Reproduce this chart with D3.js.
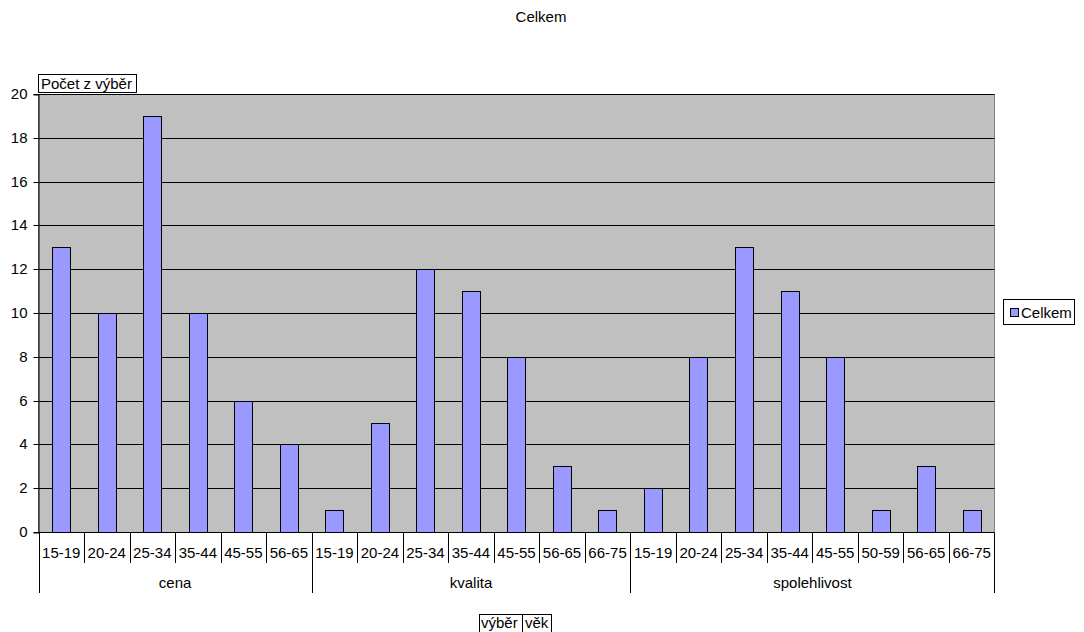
<!DOCTYPE html>
<html>
<head>
<meta charset="utf-8">
<script src="https://cdn.jsdelivr.net/npm/d3@7"></script>
<style>
  body { margin: 0; background: #fff; }
  svg { display: block; font-family: "Liberation Sans", Arial, sans-serif; }
</style>
</head>
<body>
<svg id="chart" width="1084" height="632"></svg>
<script>
// Pivot data: count of responses per group (výběr) and age band (věk)
const groups = ["cena", "kvalita", "spolehlivost"];
const cenaAges = ["15-19", "20-24", "25-34", "35-44", "45-55", "56-65"];
const cenaValues = [13, 10, 19, 10, 6, 4];
const kvalitaAges = ["15-19", "20-24", "25-34", "35-44", "45-55", "56-65", "66-75"];
const kvalitaValues = [1, 5, 12, 11, 8, 3, 1];
const spolehlivostAges = ["15-19", "20-24", "25-34", "35-44", "45-55", "50-59", "56-65", "66-75"];
const spolehlivostValues = [2, 8, 13, 11, 8, 1, 3, 1];
const yTicks = [0, 2, 4, 6, 8, 10, 12, 14, 16, 18, 20];

const groupAges = [cenaAges, kvalitaAges, spolehlivostAges];
const groupValues = [cenaValues, kvalitaValues, spolehlivostValues];

const rows = [];
groups.forEach((g, gi) => {
  groupAges[gi].forEach((a, ai) => {
    rows.push({ key: g + "|" + a, group: g, age: a, value: groupValues[gi][ai] });
  });
});

const FS = 15;
const svg = d3.select("#chart");
const plotL = 38.5, plotR = 994.5, plotT = 94.5, plotB = 532.5;

const x = d3.scaleBand().domain(rows.map(d => d.key)).range([plotL, plotR]).paddingInner(0.6).paddingOuter(0.3);
const xCat = d3.scaleBand().domain(rows.map(d => d.key)).range([plotL, plotR]);
const y = d3.scaleLinear().domain([0, 20]).range([plotB, plotT]);

// Title
svg.append("text").attr("x", 541).attr("y", 22).attr("text-anchor", "middle")
  .attr("font-size", FS).attr("fill", "#000").text("Celkem");

// Plot area
svg.append("rect").attr("x", plotL).attr("y", plotT).attr("width", plotR - plotL).attr("height", plotB - plotT)
  .attr("fill", "#c0c0c0").attr("stroke", "#808080").attr("stroke-width", 1);

// Gridlines
svg.append("g").selectAll("line").data(yTicks.filter(t => t > 0)).join("line")
  .attr("x1", plotL).attr("x2", plotR)
  .attr("y1", d => Math.floor(y(d)) + 0.5).attr("y2", d => Math.floor(y(d)) + 0.5)
  .attr("stroke", "#000").attr("stroke-width", 1);

// Bars
svg.append("g").selectAll("rect").data(rows).join("rect")
  .attr("x", d => Math.round(x(d.key)) + 0.5)
  .attr("y", d => Math.floor(y(d.value)) + 0.5)
  .attr("width", Math.round(x.bandwidth()))
  .attr("height", d => Math.floor(y(0)) - Math.floor(y(d.value)))
  .attr("fill", "#9999ff").attr("stroke", "#000").attr("stroke-width", 1);

// Y axis
const yAxis = d3.axisLeft(y).tickValues(yTicks).tickSize(5).tickPadding(6);
const yg = svg.append("g").attr("transform", `translate(${plotL},0)`).call(yAxis);
yg.select(".domain").attr("stroke", "#000");
yg.selectAll(".tick line").attr("stroke", "#000");
yg.selectAll(".tick text").attr("font-size", FS).attr("fill", "#000")
  .attr("font-family", "Liberation Sans, Arial, sans-serif");
yg.selectAll(".tick").attr("transform", d => `translate(0,${Math.floor(y(d)) + 0.5})`);

// X axis baseline
svg.append("line").attr("x1", plotL).attr("x2", plotR).attr("y1", plotB).attr("y2", plotB)
  .attr("stroke", "#000");

// Category separators and labels
const catSepBottom = 563, grpSepBottom = 593;
const g0 = svg.append("g");
rows.forEach((d, i) => {
  const xs = Math.round(xCat(d.key)) + 0.5;
  const isGroupStart = i === 0 || rows[i - 1].group !== d.group;
  g0.append("line").attr("x1", xs).attr("x2", xs).attr("y1", plotB)
    .attr("y2", isGroupStart ? grpSepBottom : catSepBottom).attr("stroke", "#000");
  g0.append("text").attr("x", xCat(d.key) + xCat.bandwidth() / 2).attr("y", 558)
    .attr("text-anchor", "middle").attr("font-size", FS).text(d.age);
});
g0.append("line").attr("x1", plotR).attr("x2", plotR).attr("y1", plotB).attr("y2", grpSepBottom).attr("stroke", "#000");

// Group labels
groups.forEach(g => {
  const keys = rows.filter(r => r.group === g).map(r => r.key);
  const x0 = xCat(keys[0]), x1 = xCat(keys[keys.length - 1]) + xCat.bandwidth();
  g0.append("text").attr("x", (x0 + x1) / 2).attr("y", 588)
    .attr("text-anchor", "middle").attr("font-size", FS).text(g);
});

// Data field button
const df = svg.append("g");
df.append("rect").attr("x", 38.5).attr("y", 74.5).attr("width", 98).attr("height", 18)
  .attr("fill", "#fff").attr("stroke", "#000");
df.append("text").attr("x", 41).attr("y", 89).attr("font-size", FS).text("Počet z výběr");

// Legend
const lg = svg.append("g");
lg.append("rect").attr("x", 1003.5).attr("y", 299.5).attr("width", 71).attr("height", 25)
  .attr("fill", "#fff").attr("stroke", "#000");
lg.append("rect").attr("x", 1010.5).attr("y", 308.5).attr("width", 8).attr("height", 8)
  .attr("fill", "#9999ff").attr("stroke", "#000");
lg.append("text").attr("x", 1021).attr("y", 318).attr("font-size", FS).text("Celkem");

// Row field buttons
const rf = svg.append("g");
rf.append("rect").attr("x", 479.5).attr("y", 614.5).attr("width", 72).attr("height", 20)
  .attr("fill", "#fff").attr("stroke", "#000");
rf.append("line").attr("x1", 522.5).attr("x2", 522.5).attr("y1", 614.5).attr("y2", 633).attr("stroke", "#000");
rf.append("text").attr("x", 481).attr("y", 628).attr("font-size", FS).text("výběr");
rf.append("text").attr("x", 525).attr("y", 628).attr("font-size", FS).text("věk");
</script>
</body>
</html>
